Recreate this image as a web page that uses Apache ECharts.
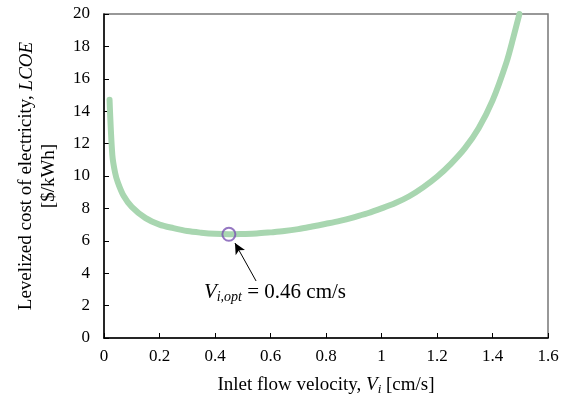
<!DOCTYPE html>
<html>
<head>
<meta charset="utf-8">
<script src="https://cdn.jsdelivr.net/npm/echarts@6/dist/echarts.min.js"></script>
<style>
html, body { margin: 0; padding: 0; background: #fff; }
#chart { width: 563px; height: 403px; }
</style>
</head>
<body>
<div id="chart"></div>
<script>
// inlet velocity [cm/s] and LCOE [$/kWh]
const velocity = [0.02, 0.03, 0.04, 0.05, 0.07, 0.10, 0.15, 0.20, 0.25, 0.30, 0.35, 0.40, 0.45,
    0.50, 0.55, 0.60, 0.65, 0.70, 0.75, 0.80, 0.85, 0.90, 0.95, 1.00, 1.05, 1.10, 1.15,
    1.20, 1.25, 1.30, 1.35, 1.40, 1.45, 1.475, 1.497]
const lcoe = [14.7, 11.3, 10.2, 9.6, 8.8, 8.1, 7.4, 7.0, 6.78, 6.6, 6.5, 6.43, 6.4,
    6.42, 6.45, 6.52, 6.6, 6.72, 6.88, 7.05, 7.23, 7.45, 7.7, 8.0, 8.33, 8.75, 9.3,
    9.95, 10.75, 11.7, 12.95, 14.65, 17.0, 18.55, 20]
const optimum = [0.45, 6.4]
const arrowFrom = [0.548, 3.52]
const arrowTo = [0.472, 5.86]
const labelAt = [0.616, 2.84]
const xTicks = [0, 0.2, 0.4, 0.6, 0.8, 1, 1.2, 1.4, 1.6]
const yTicks = [0, 2, 4, 6, 8, 10, 12, 14, 16, 18, 20]

const font = '"Liberation Serif", "Times New Roman", serif'

let chart = echarts.init(document.getElementById('chart'))

let option = {
    animation: false,
    grid: {
        left: 104,
        right: 15,
        top: 14,
        bottom: 65,
        show: true,
        borderColor: '#777',
        borderWidth: 1.5
    },
    xAxis: {
        type: 'value',
        min: xTicks[0],
        max: xTicks[xTicks.length - 1],
        interval: 0.2,
        name: '{n|Inlet flow velocity, }{i|V}{s|i}{n| [cm/s]}',
        nameLocation: 'middle',
        nameGap: 36,
        nameTextStyle: {
            rich: {
                n: { fontFamily: font, fontSize: 19, color: '#000' },
                i: { fontFamily: font, fontSize: 19, fontStyle: 'italic', color: '#000' },
                s: { fontFamily: font, fontSize: 13, fontStyle: 'italic', color: '#000', padding: [9, 0, 0, 0] }
            }
        },
        axisLine: { onZero: false, lineStyle: { color: '#000', width: 1.5 } },
        axisTick: { inside: true, length: 5, lineStyle: { color: '#000' } },
        axisLabel: { fontFamily: font, fontSize: 17, color: '#000', margin: 10 },
        splitLine: { show: false }
    },
    yAxis: {
        type: 'value',
        min: yTicks[0],
        max: yTicks[yTicks.length - 1],
        interval: 2,
        name: '{n|Levelized cost of electricity, }{i|LCOE}\n{n|[$/kWh]}',
        nameLocation: 'middle',
        nameRotate: 90,
        nameGap: 43,
        nameTextStyle: {
            lineHeight: 23,
            rich: {
                n: { fontFamily: font, fontSize: 19, color: '#000', lineHeight: 23 },
                i: { fontFamily: font, fontSize: 19, fontStyle: 'italic', color: '#000', lineHeight: 23 }
            }
        },
        axisLine: { onZero: false, lineStyle: { color: '#000', width: 1.5 } },
        axisTick: { inside: true, length: 5, lineStyle: { color: '#000' } },
        axisLabel: { fontFamily: font, fontSize: 17, color: '#000', margin: 14 },
        splitLine: { show: false }
    },
    series: [
        {
            name: 'LCOE',
            type: 'line',
            data: velocity.map((v, i) => [v, lcoe[i]]),
            smooth: 0.3,
            showSymbol: false,
            lineStyle: { color: '#a8d6b0', width: 6, cap: 'round', join: 'round' },
            z: 2
        },
        {
            name: 'optimum',
            type: 'scatter',
            data: [optimum],
            symbol: 'circle',
            symbolSize: 13,
            itemStyle: { color: 'rgba(255,255,255,0)', borderColor: '#7b55b3', borderWidth: 2 },
            z: 3,
            markLine: {
                silent: true,
                symbol: ['none', 'arrow'],
                symbolSize: [8, 11],
                lineStyle: { color: '#000', width: 1, type: 'solid' },
                label: { show: false },
                data: [[{ coord: arrowFrom }, { coord: arrowTo }]]
            },
            markPoint: {
                silent: true,
                symbol: 'circle',
                symbolSize: 0,
                data: [{ coord: labelAt }],
                label: {
                    show: true,
                    position: 'inside',
                    formatter: '{i|V}{s|i,opt}{n| = 0.46 cm/s}',
                    rich: {
                        i: { fontFamily: font, fontSize: 21, fontStyle: 'italic', color: '#000' },
                        s: { fontFamily: font, fontSize: 14, fontStyle: 'italic', color: '#000', padding: [10, 0, 0, 0] },
                        n: { fontFamily: font, fontSize: 21, color: '#000' }
                    }
                }
            }
        }
    ]
}
chart.setOption(option)
</script>
</body>
</html>
